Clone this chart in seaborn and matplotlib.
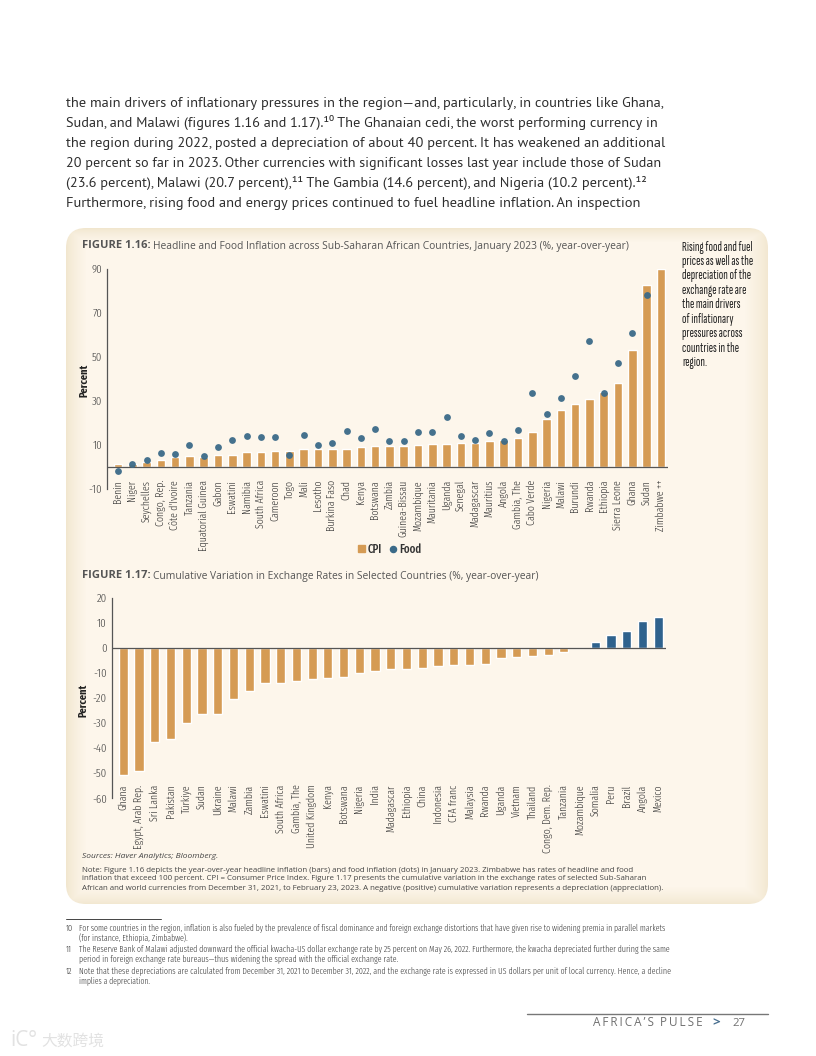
import numpy as np
import matplotlib
matplotlib.use("Agg")
import matplotlib.pyplot as plt
from matplotlib.patches import FancyBboxPatch, Patch
from matplotlib.lines import Line2D
import seaborn as sns

countries_116 = ["Benin", "Niger", "Seychelles", "Congo, Rep.", "Côte d'Ivoire", "Tanzania",
    "Equatorial Guinea", "Gabon", "Eswatini", "Namibia", "South Africa", "Cameroon", "Togo",
    "Mali", "Lesotho", "Burkina Faso", "Chad", "Kenya", "Botswana", "Zambia", "Guinea-Bissau",
    "Mozambique", "Mauritania", "Uganda", "Senegal", "Madagascar", "Mauritius", "Angola",
    "Gambia, The", "Cabo Verde", "Nigeria", "Malawi", "Burundi", "Rwanda", "Ethiopia",
    "Sierra Leone", "Ghana", "Sudan", "Zimbabwe ++"]
cpi = [1.5, 1.5, 2.2, 3.4, 4.5, 5.0, 4.5, 5.3, 5.6, 7.0, 7.0, 7.2, 7.2, 8.0, 8.1, 8.3, 8.3, 8.9,
    9.5, 9.5, 9.5, 9.8, 10.3, 10.6, 10.7, 10.9, 11.8, 12.5, 13.1, 15.7, 21.9, 25.8, 28.7, 31.0,
    33.9, 38.3, 53.4, 82.7, 90.0]
food = [-1.7, 1.5, 3.2, 6.2, 6.0, 10.0, 5.0, 8.9, 12.5, 14.0, 13.6, 13.8, 5.6, 14.5, 10.0, 10.9,
    16.3, 13.0, 17.2, 11.6, 11.8, 15.8, 16.0, 22.9, 13.9, 12.4, 15.5, 11.8, 17.0, 33.8, 24.3,
    31.4, 41.3, 57.2, 33.8, 47.4, 60.8, 78.1, np.nan]
ticks_116 = [-10, 10, 30, 50, 70, 90]

countries_117 = ["Ghana", "Egypt, Arab Rep.", "Sri Lanka", "Pakistan", "Türkiye", "Sudan", "Ukraine",
    "Malawi", "Zambia", "Eswatini", "South Africa", "Gambia, The", "United Kingdom", "Kenya",
    "Botswana", "Nigeria", "India", "Madagascar", "Ethiopia", "China", "Indonesia", "CFA franc",
    "Malaysia", "Rwanda", "Uganda", "Vietnam", "Thailand", "Congo, Dem. Rep.", "Tanzania",
    "Mozambique", "Somalia", "Peru", "Brazil", "Angola", "Mexico"]
fx = [-50.6, -49.1, -37.5, -36.2, -29.9, -26.4, -26.4, -20.5, -17.4, -14.0, -14.0, -13.4, -12.5,
    -12.0, -11.7, -10.2, -9.4, -8.5, -8.5, -8.1, -7.3, -7.0, -6.9, -6.5, -4.2, -3.7, -3.4, -2.8,
    -1.7, 0.1, 2.3, 5.2, 6.9, 10.9, 12.5]
ticks_117 = list(range(-60, 21, 10))

body = ["the main drivers of inflationary pressures in the region—and, particularly, in countries like Ghana,",
    "Sudan, and Malawi (figures 1.16 and 1.17).¹⁰ The Ghanaian cedi, the worst performing currency in",
    "the region during 2022, posted a depreciation of about 40 percent. It has weakened an additional",
    "20 percent so far in 2023. Other currencies with significant losses last year include those of Sudan",
    "(23.6 percent), Malawi (20.7 percent),¹¹ The Gambia (14.6 percent), and Nigeria (10.2 percent).¹²",
    "Furthermore, rising food and energy prices continued to fuel headline inflation. An inspection"]
side = ["Rising food and fuel", "prices as well as the", "depreciation of the", "exchange rate are",
    "the main drivers", "of inflationary", "pressures across", "countries in the", "region."]
notes = ["Note: Figure 1.16 depicts the year-over-year headline inflation (bars) and food inflation (dots) in January 2023. Zimbabwe has rates of headline and food",
    "inflation that exceed 100 percent. CPI = Consumer Price Index. Figure 1.17 presents the cumulative variation in the exchange rates of selected Sub-Saharan",
    "African and world currencies from December 31, 2021, to February 23, 2023. A negative (positive) cumulative variation represents a depreciation (appreciation)."]
foot = ["For some countries in the region, inflation is also fueled by the prevalence of fiscal dominance and foreign exchange distortions that have given rise to widening premia in parallel markets",
    "(for instance, Ethiopia, Zimbabwe).",
    "The Reserve Bank of Malawi adjusted downward the official kwacha-US dollar exchange rate by 25 percent on May 26, 2022. Furthermore, the kwacha depreciated further during the same",
    "period in foreign exchange rate bureaus—thus widening the spread with the official exchange rate.",
    "Note that these depreciations are calculated from December 31, 2021 to December 31, 2022, and the exchange rate is expressed in US dollars per unit of local currency. Hence, a decline",
    "implies a depreciation."]

ORANGE = "#D59B54"
BLUE = "#2F628D"
DOT = "#3B6A88"
INK = "#3A3A3A"
NARROW = ["Fira Sans Extra Condensed", "PT Sans Narrow", "Liberation Sans", "DejaVu Sans"]
SIDE = ["Sofia Sans Extra Condensed", "Fira Sans Extra Condensed", "PT Sans Narrow", "Liberation Sans", "DejaVu Sans"]
BODY = ["PT Sans", "Open Sans", "DejaVu Sans"]
WIDE = ["Open Sans", "DejaVu Sans"]

sns.set_theme(style="white")
plt.rcParams["font.family"] = WIDE
W, H = 816, 1056
fig = plt.figure(figsize=(W / 100, H / 100), dpi=100, facecolor="white")
bg = fig.add_axes([0, 0, 1, 1], zorder=0)
bg.set_xlim(0, W); bg.set_ylim(H, 0); bg.axis("off")

L, R, T, B = 66, 768, 228, 904
yy, xx = np.mgrid[T:B, L:R]
d = np.minimum.reduce([(xx - L) / 20, (R - xx) / 24, (yy - T) / 14, (B - yy) / 18]).clip(0, 1)
c0, c1 = np.array([0xF1, 0xE6, 0xCE]) / 255, np.array([0xFD, 0xF6, 0xEB]) / 255
img = c0 + (c1 - c0) * (d[..., None] ** 0.7)
im = bg.imshow(img, extent=(L, R, B, T), aspect="auto", zorder=1)
bg.set_xlim(0, W); bg.set_ylim(H, 0)
clip = FancyBboxPatch((L + 18, T + 18), R - L - 36, B - T - 36, boxstyle="round,pad=18,rounding_size=20",
    transform=bg.transData, fc="none", ec="none")
bg.add_patch(clip)
im.set_clip_path(clip)

renderer = fig.canvas.get_renderer()

def put(x, y, s, end=None, size=9, color=INK, family=WIDE, weight="normal", **kw):
    t = bg.text(x, y, s, fontsize=size, color=color, family=family, weight=weight,
        va=kw.pop("va", "center"), ha=kw.pop("ha", "left"), zorder=5, **kw)
    if end is not None:
        w = t.get_window_extent(renderer).width
        t.set_fontsize(size * (end - x) / w)
    return t

for y, s, e in zip([103, 123, 143, 163, 183, 203], body, [663, 661, 666, 664, 647, 643]):
    put(66, y, s, end=e, size=10.5, color="#2E2E2E", family=BODY)

put(82, 246, "FIGURE 1.16:", end=150, size=7, color="#555555", weight="bold")
put(153, 246, "Headline and Food Inflation across Sub-Saharan African Countries, January 2023 (%, year-over-year)",
    end=631, size=7, color="#555555")
put(82, 576, "FIGURE 1.17:", end=150, size=7, color="#555555", weight="bold")
put(153, 576, "Cumulative Variation in Exchange Rates in Selected Countries (%, year-over-year)",
    end=541, size=7, color="#555555")

first = put(682, 247, side[0], end=752, size=8, color="#222222", family=SIDE, weight="bold")
side_size = first.get_fontsize()
for i, s in enumerate(side[1:], start=1):
    put(682, 247 + i * 14.45, s, size=side_size, color="#222222", family=SIDE, weight="bold")

put(82, 857, "Sources: Haver Analytics; Bloomberg.", end=219, size=6, color="#444444", style="italic")
for y, s, e in zip([870, 879, 888], notes, [641, 655, 669]):
    put(82, y, s, end=e, size=6, color="#444444")

for y, s, e in zip([928, 938, 949, 959, 971, 981], foot, [671, 188, 671, 395, 663, 150]):
    put(79, y, s, end=e, size=6, color="#3A3A3A", family=NARROW, weight=300)
for y, s in zip([928, 949, 971], ["10", "11", "12"]):
    put(66, y, s, size=6.5, color="#3A3A3A", family=NARROW, weight=300)
bg.plot([66, 161], [919, 919], color="#444444", lw=0.7, zorder=5)
bg.plot([527, 768], [1014, 1014], color="#777777", lw=1, zorder=5)
put(593, 1023, "\u2009".join("AFRICA’S") + "\u2009\u2009\u2009" + "\u2009".join("PULSE"), end=703, size=8, color="#707070")
put(712, 1023, ">", size=9.5, color="#4A7090", weight="bold")
put(732, 1023, "27", end=745, size=8, color="#707070")
put(41, 1041, "大数跨境", end=104, size=11, color="#E2E2E2", family=["Noto Sans CJK SC", "DejaVu Sans"])
put(10, 1041, "iC°", end=37, size=11, color="#E2E2E2")

def make_axes(x0, x1, ytop, ybot):
    ax = fig.add_axes([x0 / W, 1 - ybot / H, (x1 - x0) / W, (ybot - ytop) / H], zorder=2)
    ax.patch.set_alpha(0)
    return ax

def style(ax, ticks, pad):
    sns.despine(ax=ax, bottom=True)
    ax.spines["left"].set_color("#555555")
    ax.spines["left"].set_linewidth(0.9)
    ax.axhline(0, color="#555555", lw=0.9, zorder=3)
    ax.set_yticks(ticks)
    ax.set_yticklabels([str(v) for v in ticks], family=NARROW, fontsize=8.5, color="#444444", weight=300)
    ax.tick_params(axis="y", length=0, pad=3.5)
    ax.tick_params(axis="x", length=0, pad=pad)
    for lab in ax.get_xticklabels():
        lab.set(rotation=90, family=NARROW, fontsize=7.8, weight=300, color="#333333", ha="center", va="top")
    ax.set_xlabel("")
    ax.set_ylabel("")

# Figure 1.16
ax1 = make_axes(107, 668, 269, 489)
sns.barplot(x=countries_116, y=cpi, color=ORANGE, saturation=1, width=0.6, ax=ax1, zorder=2)
sns.stripplot(x=countries_116, y=food, color=DOT, size=4.9, jitter=False, alpha=0.95, ax=ax1, zorder=4)
ax1.set_ylim(-10, 90)
ax1.set_xlim(-0.77, 38.5)
style(ax1, ticks_116, -6.5)
put(84, 380, "Percent", size=8, color="#222222", family=NARROW, weight="bold", rotation=90, ha="center")
fig.legend(handles=[Patch(color=ORANGE, label="CPI"),
        Line2D([], [], color=DOT, marker="o", ls="", ms=4.4, label="Food")],
    loc="center", bbox_to_anchor=(390 / W, 1 - 549 / H), ncol=2, frameon=False, handlelength=0.55,
    handleheight=0.55, handletextpad=0.25, columnspacing=0.7,
    prop={"family": NARROW, "size": 8.5, "weight": "medium"}, labelcolor="#333333")

# Figure 1.17
ax2 = make_axes(111.7, 666, 597.7, 798.3)
sign = ["up" if v > 1 else "down" for v in fx]
sns.barplot(x=countries_117, y=fx, hue=sign, palette={"up": BLUE, "down": ORANGE}, dodge=False, legend=False,
    saturation=1, width=0.585, ax=ax2, zorder=2)
ax2.set_ylim(-60, 20)
ax2.set_xlim((111.7 - 123.3) / 15.74, 34 + (666 - 658.3) / 15.74)
style(ax2, ticks_117, -10)
put(83, 700, "Percent", size=8, color="#222222", family=NARROW, weight="bold", rotation=90, ha="center")

fig.savefig("out.png", dpi=100)
